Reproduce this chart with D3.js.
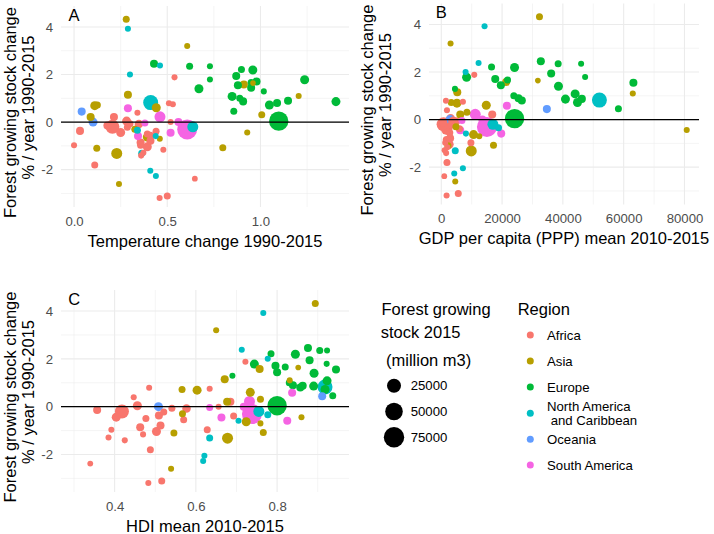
<!DOCTYPE html>
<html><head><meta charset="utf-8">
<script src="https://cdn.jsdelivr.net/npm/d3@7"></script>
<style>body{margin:0;background:#fff}svg{display:block;font-family:"Liberation Sans",Arial,sans-serif}</style>
</head><body><svg id="c" width="714" height="534"></svg>
<script>
// ---- data (one entry per country) ----
const regionNames = ["Africa","Asia","Europe","North America\n and Caribbean","Oceania","South America"];
const regionColors = ["#F8766D","#B79F00","#00BA38","#00BFC4","#619CFF","#F564E3"];
const region = [
 0,0,0,0,0,0,0,0,0,0,0,0,0,0,0,0,0,0,0,0,0,0,0,0,0,0,0,0,0,
 1,1,1,1,1,1,1,1,1,1,1,1,1,1,1,1,1,1,1,
 2,2,2,2,2,2,2,2,2,2,2,2,2,2,2,2,2,2,2,2,2,2,2,
 3,3,3,3,3,3,3,3,3,3,
 4,4,
 5,5,5,5,5,5,5];
const stockChange = [
 -2.38,-0.14,-1.29,-0.97,-0.2,-0.44,-1.41,0.39,0.04,-0.86,-1.16,-0.5,0.79,-1.8,-3.19,-3.11,-1.04,-0.79,-0.37,-0.22,-0.07,-0.55,-0.08,1.88,0.75,0.0,0.21,-0.39,-0.97,
 4.32,3.2,1.58,1.64,1.1,1.15,0.72,0.69,0.6,0.31,0.21,-0.3,-0.44,-0.63,-0.7,-1.08,-1.1,-1.32,-2.6,
 2.45,2.35,2.35,2.21,2.19,1.94,1.79,1.78,1.71,1.66,1.55,1.44,1.4,1.29,1.08,0.9,0.8,0.87,0.86,0.46,0.04,0.72,1.0,
 3.92,2.38,2.0,0.82,-0.2,-0.34,-0.59,-1.31,-2.05,-2.27,
 0.44,0.0,
 0.58,-0.59,-0.31,0.22,-0.45,0.0,-0.04];
const stock2015 = [
 100,2500,200,200,25000,4600,200,200,4600,2500,200,1000,200,1000,200,1000,4600,2500,2500,1000,1000,1000,3500,200,200,200,2500,1000,1000,
 1000,200,2500,50,200,2500,1000,4600,4600,1000,2500,1000,200,4600,200,1000,1000,10800,200,
 2500,1000,200,1000,4600,2500,200,4600,2500,1000,2500,2500,4600,200,4600,2500,2500,2500,4600,1000,65000,4600,1000,
 200,200,200,31000,10800,1000,200,1000,200,200,
 2500,4600,
 2500,2500,71000,10800,2500,2500,1000];
const tempChange = [
 0.648,0.179,0.372,0.0,0.206,0.25,0.36,0.34,0.282,0.357,0.479,0.393,0.509,0.111,0.459,0.5,0.393,0.41,0.032,0.286,0.3,0.41,0.348,0.539,0.53,0.518,0.214,0.44,0.357,
 0.28,0.607,0.911,0.96,1.205,0.289,0.125,0.111,0.441,1.007,0.089,0.326,0.929,0.393,0.46,0.798,0.122,0.229,0.241,
 0.429,0.62,0.729,0.898,0.959,0.87,0.729,1.237,0.979,0.95,0.879,0.95,0.67,1.018,0.848,1.148,1.089,0.907,1.405,0.857,1.098,1.048,0.889,
 0.289,0.461,0.3,0.411,0.637,0.34,0.438,0.363,0.409,0.439,
 0.041,0.102,
 0.289,0.343,0.607,0.461,0.518,0.56,0.38];
const gdpPPP = [
 990,700,1100,1300,760,1500,1600,1870,3060,1800,2000,2200,1540,1870,1750,5590,2600,2900,2400,3300,3500,2800,4800,10850,7120,3900,16760,6000,9750,
 32300,3060,21360,31770,63000,5260,3290,5150,14800,8440,6240,4820,80740,10620,12500,17180,2190,9860,4600,
 32750,38450,46000,16540,24100,36150,47320,8330,17750,21790,63200,19600,38550,4500,44030,25400,26500,46240,40850,58270,24100,44800,23870,
 14240,12270,8000,52020,16980,18840,8110,4600,7120,4270,
 34730,2900,
 21580,19720,15010,11170,6240,13500,6800];
const hdiMean = [
 0.340,0.357,0.385,0.392,0.418,0.404,0.425,0.447,0.456,0.463,0.470,0.477,0.485,0.488,0.483,0.516,0.503,0.513,0.509,0.521,0.541,0.570,0.577,0.722,0.634,0.656,0.685,0.693,0.628,
 0.894,0.650,0.757,0.852,0.831,0.671,0.566,0.603,0.734,0.759,0.677,0.567,0.860,0.724,0.759,0.766,0.546,0.678,0.539,
 0.876,0.905,0.923,0.785,0.845,0.880,0.922,0.744,0.796,0.820,0.945,0.800,0.891,0.690,0.923,0.839,0.857,0.863,0.890,0.937,0.800,0.918,0.830,
 0.766,0.713,0.777,0.918,0.755,0.777,0.705,0.634,0.621,0.618,
 0.911,0.508,
 0.837,0.825,0.738,0.732,0.663,0.718,0.634];

const yTicks = [-2,0,2,4];
const xTicksA = [0,0.5,1.0];
const xTicksB = [0,20000,40000,60000,80000];
const xTicksC = [0.4,0.6,0.8];
const sizeBreaks = [25000,50000,75000];

// ---- drawing ----
const svg = d3.select("#c");
const rScaleSqrt = d3.scaleLinear().domain([0, Math.sqrt(75000)]).range([2.63, 10.2]);
const r = v => rScaleSqrt(Math.sqrt(v));
const color = d3.scaleOrdinal().domain(d3.range(6)).range(regionColors);
const pts = region.map((g,i)=>({g, y:stockChange[i], s:stock2015[i], t:tempChange[i], gdp:gdpPPP[i], hdi:hdiMean[i]}))
  .sort((a,b)=>b.s-a.s);
const yDom = [-3.57, 4.88];

function minorOf(ticks, dom){
  const step = ticks[1]-ticks[0];
  const out=[];
  for(let v=ticks[0]-step/2; v<=dom[1]+1e-9; v+=step) if(v>=dom[0]-1e-9) out.push(v);
  return out;
}

function panel(opt){
  const x = d3.scaleLinear().domain(opt.xDom).range([opt.l, opt.r]);
  const y = d3.scaleLinear().domain(yDom).range([opt.b, opt.t]);
  const g = svg.append("g");
  g.selectAll(null).data(minorOf(opt.xTicks, opt.xDom)).join("line")
    .attr("x1",d=>x(d)).attr("x2",d=>x(d)).attr("y1",opt.t).attr("y2",opt.b)
    .attr("stroke","#EBEBEB").attr("stroke-width",0.55);
  g.selectAll(null).data(minorOf(yTicks, yDom)).join("line")
    .attr("y1",d=>y(d)).attr("y2",d=>y(d)).attr("x1",opt.l).attr("x2",opt.r)
    .attr("stroke","#EBEBEB").attr("stroke-width",0.55);
  g.selectAll(null).data(opt.xTicks).join("line")
    .attr("x1",d=>x(d)).attr("x2",d=>x(d)).attr("y1",opt.t).attr("y2",opt.b)
    .attr("stroke","#EBEBEB").attr("stroke-width",1.1);
  g.selectAll(null).data(yTicks).join("line")
    .attr("y1",d=>y(d)).attr("y2",d=>y(d)).attr("x1",opt.l).attr("x2",opt.r)
    .attr("stroke","#EBEBEB").attr("stroke-width",1.1);
  const ax = g.append("g").attr("transform",`translate(0,${opt.b})`)
    .call(d3.axisBottom(x).tickValues(opt.xTicks).tickSize(0).tickPadding(9.5).tickFormat(opt.fmt));
  const ay = g.append("g").attr("transform",`translate(${opt.l},0)`)
    .call(d3.axisLeft(y).tickValues(yTicks).tickSize(0).tickPadding(8).tickFormat(d=>String(d)));
  [ax,ay].forEach(a=>{a.select(".domain").remove();
    a.selectAll("text").attr("fill","#4D4D4D").style("font-size","13.2px").style("font-family","Liberation Sans, Arial, sans-serif");});
  g.selectAll(null).data(pts).join("circle")
    .attr("cx",d=>x(opt.xv(d))).attr("cy",d=>y(d.y)).attr("r",d=>r(d.s))
    .attr("fill",d=>color(d.g));
  g.append("line").attr("x1",opt.l).attr("x2",opt.r).attr("y1",y(0)).attr("y2",y(0))
    .attr("stroke","#000").attr("stroke-width",1.4);
  g.append("text").attr("x",x(opt.xDom[0]+ (opt.xDom[1]-opt.xDom[0])*0.05/1.1)).attr("y",y(4.5))
    .attr("text-anchor","middle").attr("dy","0.36em").style("font-size","16.5px").text(opt.letter);
  g.append("text").attr("x",(opt.l+opt.r)/2).attr("y",opt.b+34).attr("dy","0.36em")
    .attr("text-anchor","middle").style("font-size","16.5px").text(opt.xTitle);
  const mid = (opt.t+opt.b)/2;
  g.append("text").attr("transform",`translate(${opt.yt1},${mid+6}) rotate(-90)`)
    .attr("text-anchor","middle").attr("dy","0.36em").style("font-size","16.5px").text("Forest growing stock change");
  g.append("text").attr("transform",`translate(${opt.yt2},${mid+1}) rotate(-90)`)
    .attr("text-anchor","middle").attr("dy","0.36em").style("font-size","16.5px").text("% / year 1990-2015");
}

panel({l:61,r:349,t:6,b:207,xDom:[-0.07,1.475],xTicks:xTicksA,fmt:d3.format(".1f"),xv:d=>d.t,
  letter:"A",xTitle:"Temperature change 1990-2015",yt1:10,yt2:28});
panel({l:429,r:699,t:3.5,b:204.5,xDom:[-4037,84777],xTicks:xTicksB,fmt:d=>String(d),xv:d=>d.gdp,
  letter:"B",xTitle:"GDP per capita (PPP) mean 2010-2015",yt1:367,yt2:385});
panel({l:61,r:349,t:290,b:492,xDom:[0.268,0.977],xTicks:xTicksC,fmt:d3.format(".1f"),xv:d=>d.hdi,
  letter:"C",xTitle:"HDI mean 2010-2015",yt1:10,yt2:28});

// ---- size legend ----
const lg = svg.append("g").style("font-size","16.5px");
lg.append("text").attr("x",381.5).attr("y",309.5).attr("dy","0.36em").text("Forest growing");
lg.append("text").attr("x",380.7).attr("y",331.7).attr("dy","0.36em").text("stock 2015");
lg.append("text").attr("x",386).attr("y",360).attr("dy","0.36em").text("(million m3)");
const sy = d3.scalePoint().domain(sizeBreaks).range([385.7,437.3]);
lg.selectAll(null).data(sizeBreaks).join("circle").attr("cx",394).attr("cy",d=>sy(d)).attr("r",d=>r(d)).attr("fill","#000");
lg.selectAll(null).data(sizeBreaks).join("text").attr("x",410.7).attr("y",d=>sy(d)).attr("dy","0.36em")
  .style("font-size","13.2px").text(d=>d);

// ---- region legend ----
lg.append("text").attr("x",517.7).attr("y",309).attr("dy","0.36em").text("Region");
const keyY = [335,361,387,413.3,439.3,465];
regionNames.forEach((name,i)=>{
  lg.append("circle").attr("cx",530.3).attr("cy",keyY[i]).attr("r",3.5).attr("fill",regionColors[i]);
  const lines = name.split("\n");
  lines.forEach((ln,j)=>{
    lg.append("text").attr("x",547).attr("y",keyY[i] + (lines.length>1 ? (j===0?-7.3:7.4) : 0))
      .attr("dy","0.36em").style("font-size","13.2px").style("white-space","pre").attr("xml:space","preserve").text(ln);
  });
});
</script></body></html>
